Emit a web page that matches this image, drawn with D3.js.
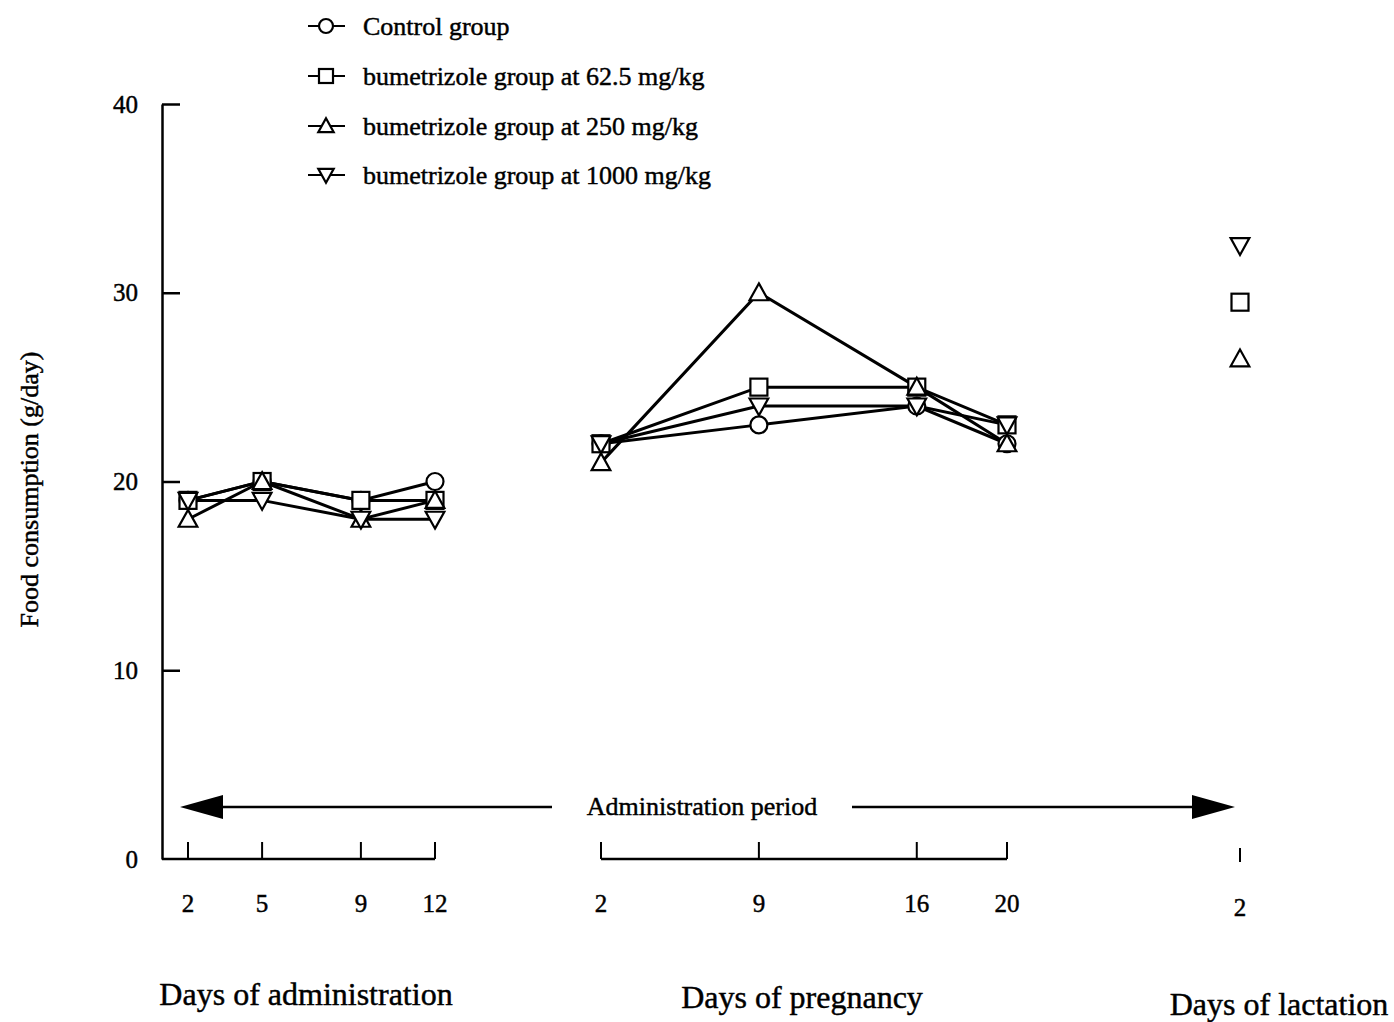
<!DOCTYPE html>
<html>
<head>
<meta charset="utf-8">
<script src="https://cdn.jsdelivr.net/npm/d3@7"></script>
<style>
  html, body { margin: 0; padding: 0; background: #fff; }
  svg { display: block; }
  text { font-family: "Liberation Serif", "Times New Roman", serif; fill: #000; stroke: #000; stroke-width: 0.45px; }
</style>
</head>
<body>
<svg id="chart" width="1394" height="1022"></svg>
<script>
// ---- data ----
const adminDays = [2, 5, 9, 12];
const pregDays = [2, 9, 16, 20];
const lactDays = [2];
const seriesNames = ["Control group", "bumetrizole group at 62.5 mg/kg", "bumetrizole group at 250 mg/kg", "bumetrizole group at 1000 mg/kg"];
const seriesSymbols = ["circle", "square", "triUp", "triDown"];
const controlAdmin = [19, 20, 19, 20];
const dose62Admin = [19, 20, 19, 19];
const dose250Admin = [18, 20, 18, 19];
const dose1000Admin = [19, 19, 18, 18];
const controlPreg = [22, 23, 24, 22];
const dose62Preg = [22, 25, 25, 23];
const dose250Preg = [21, 30, 25, 22];
const dose1000Preg = [22, 24, 24, 23];
const controlLact = [null];
const dose62Lact = [29.5];
const dose250Lact = [26.5];
const dose1000Lact = [32.5];
const yTicks = [0, 10, 20, 30, 40];

const adminValues = [controlAdmin, dose62Admin, dose250Admin, dose1000Admin];
const pregValues = [controlPreg, dose62Preg, dose250Preg, dose1000Preg];
const lactValues = [controlLact, dose62Lact, dose250Lact, dose1000Lact];

// ---- layout ----
const svg = d3.select("#chart");
const y = d3.scaleLinear().domain([0, 40]).range([859, 104]);
const xAdmin = d3.scaleLinear().domain([2, 12]).range([188, 435]);
const xPreg = d3.scaleLinear().domain([2, 20]).range([601, 1007]);
const xLact = d3.scaleLinear().domain([2, 3]).range([1240, 1263]);
const axisX0 = 162;

function drawSymbol(g, type, cx, cy, s) {
  const sw = 2.2;
  if (type === "circle") {
    g.append("circle").attr("cx", cx).attr("cy", cy).attr("r", s * 0.5)
      .attr("fill", "#fff").attr("stroke", "#000").attr("stroke-width", sw);
  } else if (type === "square") {
    const h = s * 0.5;
    g.append("rect").attr("x", cx - h).attr("y", cy - h).attr("width", 2 * h).attr("height", 2 * h)
      .attr("fill", "#fff").attr("stroke", "#000").attr("stroke-width", sw);
  } else if (type === "triUp") {
    const h = s * 0.55;
    g.append("path").attr("d", `M${cx},${cy - h} L${cx + h},${cy + h * 0.8} L${cx - h},${cy + h * 0.8} Z`)
      .attr("fill", "#fff").attr("stroke", "#000").attr("stroke-width", sw);
  } else {
    const h = s * 0.55;
    g.append("path").attr("d", `M${cx},${cy + h} L${cx + h},${cy - h * 0.8} L${cx - h},${cy - h * 0.8} Z`)
      .attr("fill", "#fff").attr("stroke", "#000").attr("stroke-width", sw);
  }
}

// y axis
const yAxis = d3.axisLeft(y).tickValues(yTicks).tickSize(-18).tickSizeOuter(0).tickPadding(24);
const gy = svg.append("g").attr("transform", `translate(${axisX0},0)`).call(yAxis);
gy.select(".domain").attr("stroke", "#000").attr("stroke-width", 2.5);
gy.selectAll(".tick line").attr("stroke", "#000").attr("stroke-width", 2.5);
gy.selectAll(".tick text").attr("font-size", 25).attr("font-family", "Liberation Serif");
gy.selectAll(".tick").filter(d => d === 0).select("line").remove();

// y label
svg.append("text").attr("transform", `translate(38,${(y(0) + y(40)) / 2 + 8}) rotate(-90)`)
  .attr("text-anchor", "middle").attr("font-size", 26).text("Food consumption (g/day)");

// bottom segment axes
function segmentAxis(scale, ticks, x0, x1, tickTop, tickBot, drawLine, labelY) {
  const g = svg.append("g");
  if (drawLine) {
    g.append("line").attr("x1", x0).attr("x2", x1).attr("y1", y(0)).attr("y2", y(0))
      .attr("stroke", "#000").attr("stroke-width", 2.5);
  }
  ticks.forEach(t => {
    g.append("line").attr("x1", scale(t)).attr("x2", scale(t)).attr("y1", tickTop).attr("y2", tickBot)
      .attr("stroke", "#000").attr("stroke-width", 2);
    g.append("text").attr("x", scale(t)).attr("y", labelY).attr("text-anchor", "middle")
      .attr("font-size", 25).text(t);
  });
}
segmentAxis(xAdmin, adminDays, axisX0, xAdmin(12), 842, 859, true, 912);
segmentAxis(xPreg, pregDays, xPreg(2), xPreg(20), 842, 859, true, 912);
segmentAxis(xLact, lactDays, 0, 0, 848, 862, false, 916);

// axis titles
svg.append("text").attr("x", 306).attr("y", 1005).attr("text-anchor", "middle").attr("font-size", 32).text("Days of administration");
svg.append("text").attr("x", 802).attr("y", 1008).attr("text-anchor", "middle").attr("font-size", 32).text("Days of pregnancy");
svg.append("text").attr("x", 1279).attr("y", 1015).attr("text-anchor", "middle").attr("font-size", 32).text("Days of lactation");

// administration period arrow
const arrowY = 807;
svg.append("line").attr("x1", 220).attr("x2", 552).attr("y1", arrowY).attr("y2", arrowY).attr("stroke", "#000").attr("stroke-width", 2.5);
svg.append("path").attr("d", `M180,${arrowY} L223,${arrowY - 12} L223,${arrowY + 12} Z`).attr("fill", "#000");
svg.append("line").attr("x1", 852).attr("x2", 1195).attr("y1", arrowY).attr("y2", arrowY).attr("stroke", "#000").attr("stroke-width", 2.5);
svg.append("path").attr("d", `M1235,${arrowY} L1192,${arrowY - 12} L1192,${arrowY + 12} Z`).attr("fill", "#000");
svg.append("text").attr("x", 702).attr("y", 815).attr("text-anchor", "middle").attr("font-size", 26).text("Administration period");

// lines
const lineGen = (xs) => d3.line().defined(d => d.v != null).x(d => xs(d.x)).y(d => y(d.v));
const plot = svg.append("g");
[[xAdmin, adminDays, adminValues], [xPreg, pregDays, pregValues]].forEach(([xs, days, vals]) => {
  vals.forEach(arr => {
    const pts = days.map((d, i) => ({ x: d, v: arr[i] }));
    plot.append("path").attr("d", lineGen(xs)(pts)).attr("fill", "none").attr("stroke", "#000").attr("stroke-width", 3);
  });
});
// markers
const marks = svg.append("g");
[[xAdmin, adminDays, adminValues], [xPreg, pregDays, pregValues], [xLact, lactDays, lactValues]].forEach(([xs, days, vals]) => {
  vals.forEach((arr, si) => {
    days.forEach((d, i) => {
      if (arr[i] == null) return;
      drawSymbol(marks, seriesSymbols[si], xs(d), y(arr[i]), 17);
    });
  });
});

// legend
const legY = [26, 76, 126, 175];
seriesNames.forEach((name, i) => {
  const g = svg.append("g");
  g.append("line").attr("x1", 308).attr("x2", 345).attr("y1", legY[i]).attr("y2", legY[i]).attr("stroke", "#000").attr("stroke-width", 2);
  drawSymbol(g, seriesSymbols[i], 326, legY[i], 14);
  g.append("text").attr("x", 363).attr("y", legY[i] + 9).attr("font-size", 26).text(name);
});
</script>
</body>
</html>
